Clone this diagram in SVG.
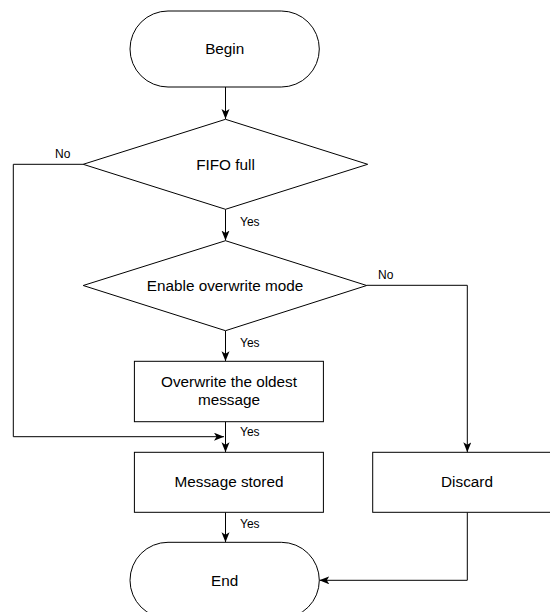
<svg xmlns="http://www.w3.org/2000/svg" width="550" height="612" viewBox="0 0 550 612">
<defs>
<style>
.shape{fill:#fff;stroke:#000;stroke-width:1}
.lbl{font-family:"Liberation Sans",Arial,sans-serif;font-size:15.3px;fill:#000;text-anchor:middle}
.edge{font-family:"Liberation Sans",Arial,sans-serif;font-size:12px;fill:#000}
.conn{fill:none;stroke:#000;stroke-width:1}
</style>
<marker id="arr" markerUnits="userSpaceOnUse" markerWidth="11" markerHeight="9" refX="10" refY="4" orient="auto">
<path d="M0,0 L10,4 L0,8 L2.5,4 z" fill="#000"/>
</marker>
</defs>
<rect width="550" height="612" fill="#fff"/>
<g id="connectors">
<path class="conn" d="M225.5,87 V119" marker-end="url(#arr)"/>
<path class="conn" d="M225.5,209.3 V240.5" marker-end="url(#arr)"/>
<path class="conn" d="M225.5,330.7 V361.3" marker-end="url(#arr)"/>
<path class="conn" d="M225.5,421.7 V452.3" marker-end="url(#arr)"/>
<path class="conn" d="M225.5,512.3 V542.3" marker-end="url(#arr)"/>
<path class="conn" d="M83.2,164.3 H13.3 V436.7 H224" marker-end="url(#arr)"/>
<path class="conn" d="M366.7,285.3 H467.3 V452.3" marker-end="url(#arr)"/>
<path class="conn" d="M467.3,512.3 V580.3 H319.3" marker-end="url(#arr)"/>
<text class="edge" x="240" y="225.5">Yes</text>
<text class="edge" x="240" y="346.5">Yes</text>
<text class="edge" x="240" y="436">Yes</text>
<text class="edge" x="240" y="527.5">Yes</text>
<text class="edge" x="55" y="157.5">No</text>
<text class="edge" x="378" y="279">No</text>
</g>
<g id="begin">
<rect class="shape" x="130" y="11" width="189.3" height="76" rx="38" ry="38"/>
<text class="lbl" x="224.7" y="54.3">Begin</text>
</g>
<g id="fifo-full">
<polygon class="shape" points="225.5,119.3 367.7,164.3 225.5,209.3 83.2,164.3"/>
<text class="lbl" x="225.5" y="170.3">FIFO full</text>
</g>
<g id="overwrite-mode">
<polygon class="shape" points="225.5,240.7 366.7,285.5 225.5,330.7 83.2,285.5"/>
<text class="lbl" x="225" y="291.2">Enable overwrite mode</text>
</g>
<g id="overwrite-oldest">
<rect class="shape" x="134.4" y="361.3" width="189" height="60.4"/>
<text class="lbl" x="229" y="387.3">Overwrite the oldest</text>
<text class="lbl" x="229" y="405.3">message</text>
</g>
<g id="message-stored">
<rect class="shape" x="134.4" y="452.3" width="189" height="60"/>
<text class="lbl" x="229" y="487.3">Message stored</text>
</g>
<g id="discard">
<rect class="shape" x="372.7" y="452.3" width="189" height="60"/>
<text class="lbl" x="467" y="487.3">Discard</text>
</g>
<g id="end">
<rect class="shape" x="130" y="542.3" width="189.3" height="76" rx="38" ry="38"/>
<text class="lbl" x="224.7" y="586.3">End</text>
</g>
</svg>
